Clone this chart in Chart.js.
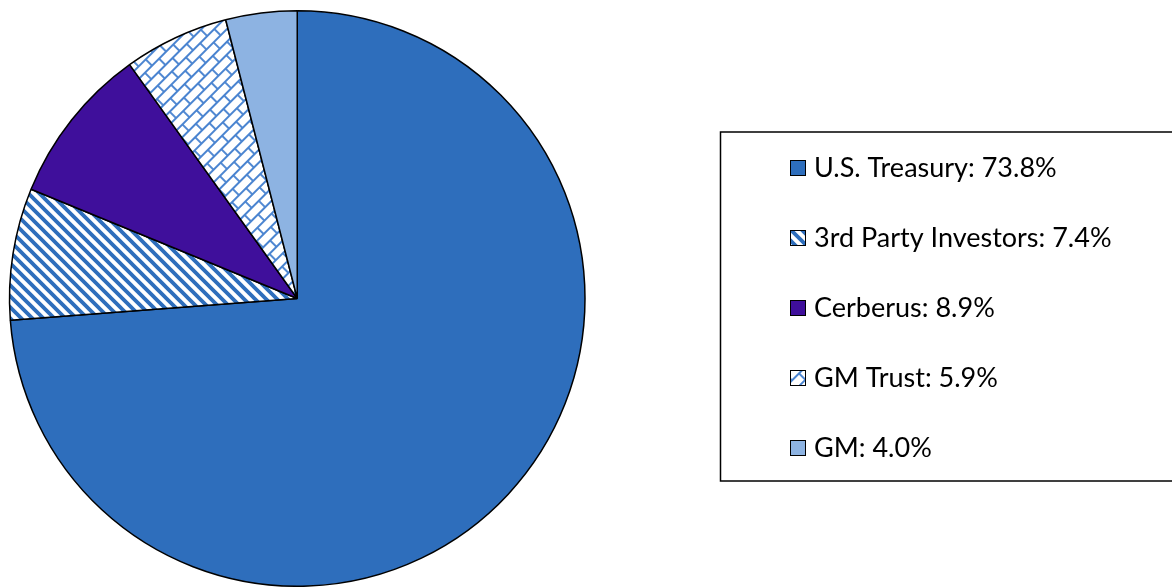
<!DOCTYPE html>
<html>
<head>
<meta charset="utf-8">
<script src="https://cdn.jsdelivr.net/npm/chart.js@4/dist/chart.umd.min.js"></script>
<style>
    html, body { margin: 0; padding: 0; background: #fff; }
    #wrap { width: 1172px; height: 587px; position: relative; }
</style>
</head>
<body>
<div id="wrap"><canvas id="ownership_chart"></canvas></div>
<script>
// ownership pie - share of the company by holder
const holders = ['U.S. Treasury', '3rd Party Investors', 'Cerberus', 'GM Trust', 'GM'];
const shares = [73.8, 7.4, 8.9, 5.9, 4.0];
const shareLabels = ['73.8%', '7.4%', '8.9%', '5.9%', '4.0%'];

const treasuryBlue = '#2e6ebc';
const cerberusPurple = '#3f0f9b';
const gmLightBlue = '#8db3e2';

// diagonal "\" stripes, blue on white
function stripePattern(color) {
    const P = 11;
    const c = document.createElement('canvas');
    c.width = P; c.height = P;
    const g = c.getContext('2d');
    g.fillStyle = '#fff';
    g.fillRect(0, 0, P, P);
    g.strokeStyle = color;
    g.lineWidth = 3.8;
    g.beginPath();
    g.moveTo(-3, -3); g.lineTo(P + 3, P + 3);
    g.moveTo(P - 3, -3); g.lineTo(P + 3, 3);
    g.moveTo(-3, P - 3); g.lineTo(3, P + 3);
    g.stroke();
    return g.createPattern(c, 'repeat');
}

// diagonal brick pattern, thin blue mortar lines on white
function brickPattern(color) {
    const L = 20, H = 9;
    const c = document.createElement('canvas');
    c.width = L; c.height = H * 2;
    const g = c.getContext('2d');
    g.fillStyle = '#fff';
    g.fillRect(0, 0, L, H * 2);
    g.strokeStyle = color;
    g.lineWidth = 1.9;
    g.beginPath();
    g.moveTo(0, 1); g.lineTo(L, 1);
    g.moveTo(0, H + 1); g.lineTo(L, H + 1);
    g.moveTo(1, 0); g.lineTo(1, H + 1);
    g.moveTo(L / 2 + 1, H); g.lineTo(L / 2 + 1, H * 2);
    g.stroke();
    const p = g.createPattern(c, 'repeat');
    p.setTransform(new DOMMatrix().rotate(-45));
    return p;
}

const fills = [
    treasuryBlue,
    stripePattern(treasuryBlue),
    cerberusPurple,
    brickPattern('#4a84d0'),
    gmLightBlue
];

// legend drawn inside a bordered box on the right
const boxedLegend = {
    id: 'boxedLegend',
    afterDraw(chart) {
        const ctx = chart.ctx;
        const ds = chart.data.datasets[0];
        ctx.save();
        ctx.strokeStyle = '#000';
        ctx.lineWidth = 1.5;
        ctx.strokeRect(720.5, 132, 470, 349);
        ctx.font = '27px Lato, "Open Sans", sans-serif';
        ctx.textBaseline = 'alphabetic';
        chart.data.labels.forEach((label, i) => {
            const cy = 168 + i * 70;
            ctx.fillStyle = ds.backgroundColor[i];
            ctx.fillRect(790, cy - 8, 16, 16);
            ctx.lineWidth = 1;
            ctx.strokeStyle = '#000';
            ctx.strokeRect(790.5, cy - 7.5, 15, 15);
            ctx.fillStyle = '#000';
            ctx.fillText(label + ': ' + shareLabels[i], 814, cy + 9);
        });
        ctx.restore();
    }
};

document.addEventListener('DOMContentLoaded', function () {
    const ctx = document.getElementById('ownership_chart').getContext('2d');
    new Chart(ctx, {
        type: 'pie',
        data: {
            labels: holders,
            datasets: [{
                data: shares,
                backgroundColor: fills,
                borderColor: '#000',
                borderWidth: 1.5
            }]
        },
        options: {
            responsive: true,
            maintainAspectRatio: false,
            animation: false,
            layout: {
                padding: { left: 8.5, top: 10, right: 586, bottom: 0 }
            },
            plugins: {
                legend: { display: false },
                tooltip: { enabled: false }
            }
        },
        plugins: [boxedLegend]
    });
});
</script>
</body>
</html>
